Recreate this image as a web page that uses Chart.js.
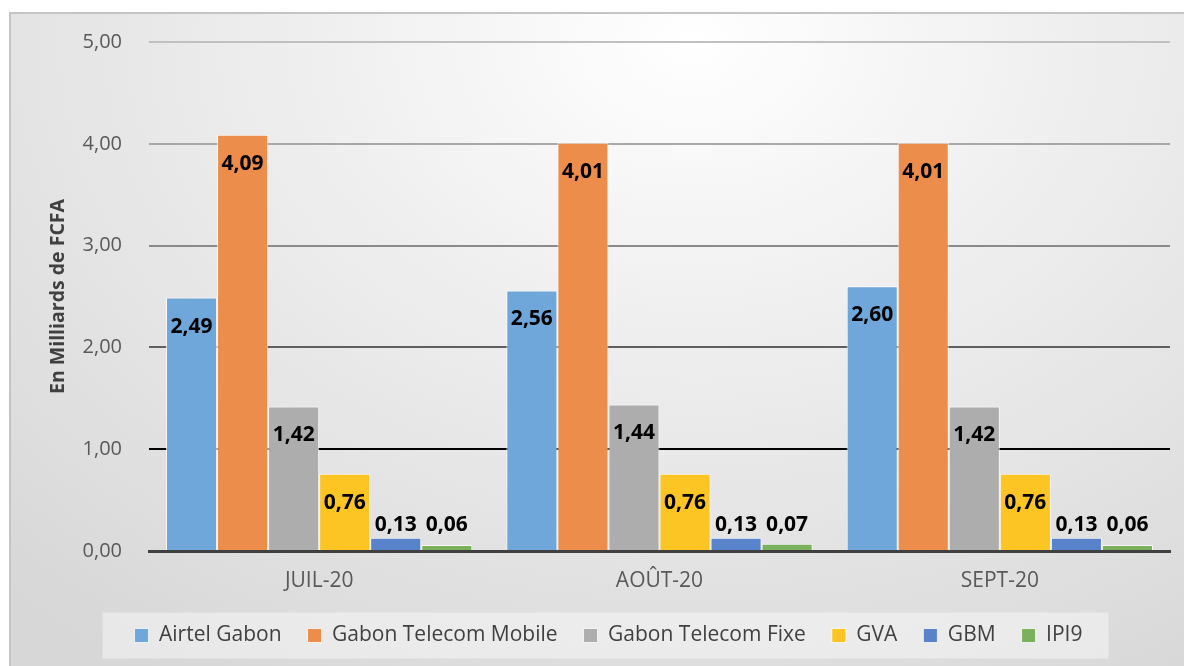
<!DOCTYPE html>
<html>
<head>
<meta charset="utf-8">
<script src="https://cdn.jsdelivr.net/npm/chart.js@4"></script>
<style>
  body { margin: 0; background: #fff; width: 1184px; height: 666px; overflow: hidden; }
  #frame {
    position: absolute; left: 9px; top: 12px; width: 1175px; height: 654px;
    border-left: 2px solid #c4c4c4; border-top: 2px solid #c4c4c4;
    background: radial-gradient(ellipse 85% 115% at 58% 4%, #ffffff 0%, #f0f0f0 35%, #d7d7d7 100%);
  }
  canvas { display: block; }
</style>
</head>
<body>
<div id="frame"><canvas id="barChart" width="1173" height="652"></canvas></div>
<script>
const months = ['JUIL-20', 'AOÛT-20', 'SEPT-20'];
const airtel = [2.49, 2.56, 2.60];
const gtMobile = [4.09, 4.01, 4.01];
const gtFixe = [1.42, 1.44, 1.42];
const gva = [0.76, 0.76, 0.76];
const gbm = [0.13, 0.13, 0.13];
const ipi9 = [0.06, 0.07, 0.06];
const yTicks = [0, 1, 2, 3, 4, 5];

const FONT = '"Open Sans", sans-serif';
const fmt = v => v.toFixed(2).replace('.', ',');

function bars(label, values, color) {
    return {
        label: label,
        data: values,
        backgroundColor: color,
        borderColor: 'rgba(255,255,255,0.75)',
        borderWidth: 1,
        categoryPercentage: 0.9,
        barPercentage: 1.0
    };
}

const gridColors = { 5: '#c0c0c0', 4: '#a8a8a8', 3: '#8a8a8a', 2: '#5f5f5f', 1: '#000000', 0: 'rgba(0,0,0,0)' };

// values printed on the bars, inside the top or above small bars
const valueLabels = {
    id: 'valueLabels',
    afterDatasetsDraw(chart) {
        const ctx = chart.ctx;
        ctx.save();
        ctx.font = 'bold 21px ' + FONT;
        ctx.fillStyle = '#000';
        ctx.textAlign = 'center';
        ctx.textBaseline = 'middle';
        chart.data.datasets.forEach((ds, i) => {
            chart.getDatasetMeta(i).data.forEach((bar, j) => {
                const h = bar.base - bar.y;
                const y = h > 45 ? bar.y + 29 : bar.base - 25;
                ctx.fillText(fmt(ds.data[j]), bar.x, y);
            });
        });
        ctx.restore();
    }
};

// light box behind the legend
const legendBox = {
    id: 'legendBox',
    beforeDraw(chart) {
        const boxes = chart.legend.legendHitBoxes;
        if (!boxes || !boxes.length) return;
        const left = Math.min(...boxes.map(b => b.left)) - 32;
        const right = Math.max(...boxes.map(b => b.left + b.width)) + 26;
        const cy = boxes[0].top + boxes[0].height / 2;
        const ctx = chart.ctx;
        ctx.save();
        ctx.fillStyle = 'rgba(245,245,245,0.55)';
        ctx.fillRect(left, cy - 23, right - left, 46);
        ctx.restore();
    }
};

const config = {
    type: 'bar',
    data: {
        labels: months,
        datasets: [
            bars('Airtel Gabon', airtel, '#6fa7da'),
            bars('Gabon Telecom Mobile', gtMobile, '#ed8d4c'),
            bars('Gabon Telecom Fixe', gtFixe, '#adadad'),
            bars('GVA', gva, '#fcc523'),
            bars('GBM', gbm, '#5882c9'),
            bars('IPI9', ipi9, '#7bb15b')
        ]
    },
    options: {
        responsive: false,
        animation: false,
        layout: { padding: { left: 36, right: 14, top: 28, bottom: 10 } },
        plugins: {
            tooltip: { enabled: false },
            legend: {
                position: 'bottom',
                labels: {
                    boxWidth: 14,
                    boxHeight: 14,
                    padding: 26,
                    color: '#404040',
                    font: { family: FONT, size: 21 }
                }
            }
        },
        scales: {
            x: {
                grid: { display: false },
                border: { display: true, color: '#404040', width: 3 },
                ticks: { color: '#595959', font: { family: FONT, size: 21 }, padding: 9 },
                afterFit(scale) { scale.height = 48; }
            },
            y: {
                min: 0,
                max: 5,
                afterBuildTicks(scale) { scale.ticks = yTicks.map(v => ({ value: v })); },
                afterFit(scale) {
                    scale.width = 102;
                    scale.paddingTop = 0;
                    scale.paddingBottom = 0;
                },
                border: { display: false },
                grid: {
                    color: c => gridColors[c.tick.value],
                    lineWidth: 2,
                    drawTicks: false
                },
                ticks: {
                    color: '#595959',
                    padding: 27,
                    font: { family: FONT, size: 20 },
                    callback: v => fmt(v)
                },
                title: {
                    display: true,
                    text: 'En Milliards de FCFA',
                    color: '#404040',
                    font: { family: FONT, size: 19.5, weight: 'bold' },
                    padding: { top: 0, bottom: 0 }
                }
            }
        }
    },
    plugins: [legendBox, valueLabels]
};

var myChart = new Chart(
    document.getElementById('barChart'),
    config
);
</script>
</body>
</html>
